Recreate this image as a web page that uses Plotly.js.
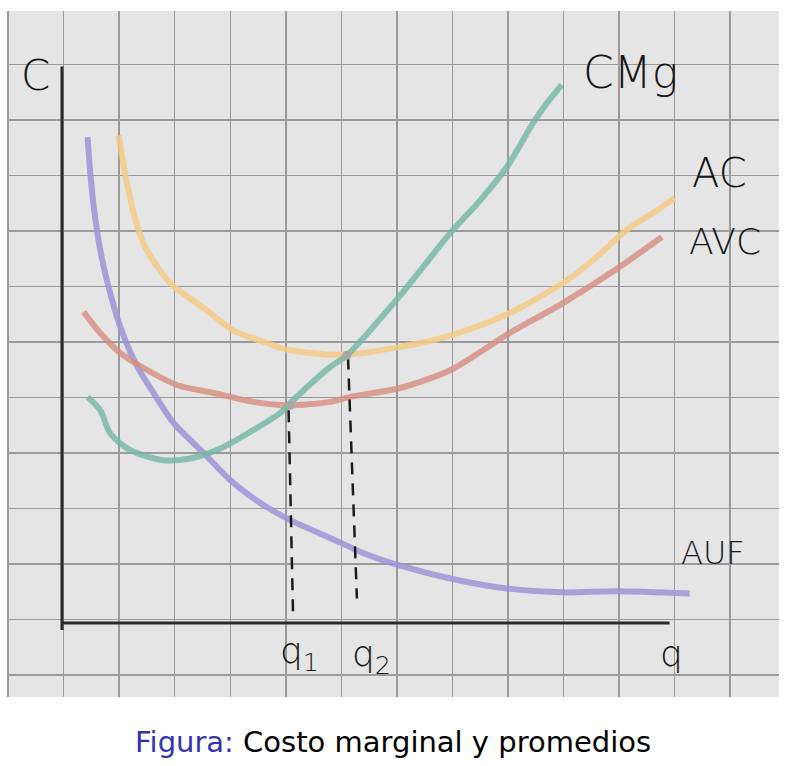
<!DOCTYPE html>
<html>
<head>
<meta charset="utf-8">
<script src="https://cdn.plot.ly/plotly-3.0.1.min.js"></script>
<style>
html,body{margin:0;padding:0;background:#fff;}
#chart{width:792px;height:766px;}
</style>
</head>
<body>
<div id="chart"></div>
<script>
// Curves in grid-cell units (x = quantity, y = cost)
const afcX = [0.43,0.48,0.55,0.66,0.79,1.02,1.33,1.62,1.98,2.52,3.00,3.54,4.08,4.80,5.46,6.06,6.96,7.98,8.99,9.96,11.27];
const afcY = [8.69,8.04,7.37,6.65,6.06,5.27,4.55,4.08,3.54,3.00,2.51,2.10,1.79,1.47,1.17,0.97,0.74,0.56,0.49,0.51,0.47];

const acX = [0.99,1.14,1.33,1.50,1.92,2.58,3.05,3.66,4.03,4.80,5.40,6.06,6.65,7.26,8.03,8.99,9.53,10.14,10.61,11.00];
const acY = [8.72,7.86,7.07,6.65,6.06,5.57,5.21,4.98,4.86,4.77,4.80,4.91,5.03,5.21,5.52,6.06,6.47,7.02,7.32,7.59];

const avcX = [0.36,0.66,1.02,1.51,2.05,2.70,3.42,4.03,4.80,5.16,6.06,6.96,7.55,8.03,8.99,10.01,10.77];
const avcY = [5.54,5.16,4.80,4.49,4.22,4.08,3.92,3.86,3.92,4.01,4.17,4.49,4.85,5.16,5.70,6.35,6.89];

const cmgX = [0.43,0.66,0.84,1.20,1.80,2.28,2.82,3.41,3.90,4.08,4.80,5.10,6.06,6.96,7.50,7.98,8.45,8.70,8.97];
const cmgY = [4.01,3.77,3.35,3.05,2.87,2.90,3.08,3.41,3.72,3.90,4.55,4.76,5.84,6.96,7.55,8.15,8.94,9.30,9.63];

// Intersection points (q1: CMg = AVC min, q2: CMg = AC min)
const dotX = [4.08,5.10];
const dotY = [3.86,4.76];

// Dashed drop lines
const q1LineX = [4.05,4.13];
const q1LineY = [3.77,0.11];
const q2LineX = [5.12,5.28];
const q2LineY = [4.72,0.38];

// Axes
const yAxisX = [-0.03,-0.03];
const yAxisY = [9.96,-0.19];
const xAxisX = [-0.03,10.91];
const xAxisY = [-0.06,-0.06];

// Labels
const labels = [
  {text:'C',   x:-0.5,  y:9.8,  size:42},
  {text:'CMg', x:10.2,  y:9.85, size:44},
  {text:'AC',  x:11.8,  y:8.05, size:40},
  {text:'AVC', x:11.9,  y:6.8,  size:36},
  {text:'AUF', x:11.7,  y:1.2,  size:32},
  {text:'q<sub>1</sub>', x:4.25, y:-0.62, size:36},
  {text:'q<sub>2</sub>', x:5.55, y:-0.67, size:36},
  {text:'q',   x:10.95, y:-0.62, size:36}
];

const lw = 6;
const traces = [
  {x:afcX, y:afcY, mode:'lines', line:{color:'rgba(160,148,215,0.85)', width:lw, shape:'spline', smoothing:0.8}},
  {x:acX,  y:acY,  mode:'lines', line:{color:'rgba(244,204,135,0.85)', width:lw, shape:'spline', smoothing:0.8}},
  {x:avcX, y:avcY, mode:'lines', line:{color:'rgba(214,140,128,0.8)', width:lw, shape:'spline', smoothing:0.8}},
  {x:cmgX, y:cmgY, mode:'lines', line:{color:'rgba(115,182,165,0.8)', width:lw, shape:'spline', smoothing:0.8}},
  {x:q1LineX, y:q1LineY, mode:'lines', line:{color:'#1a1a1a', width:2.5, dash:'12px,9px'}},
  {x:q2LineX, y:q2LineY, mode:'lines', line:{color:'#1a1a1a', width:2.5, dash:'12px,9px'}},
  {x:dotX, y:dotY, mode:'markers', marker:{color:'#a8a8a8', size:9}},
  {x:yAxisX, y:yAxisY, mode:'lines', line:{color:'#2a2a2a', width:3}},
  {x:xAxisX, y:xAxisY, mode:'lines', line:{color:'#2a2a2a', width:3}}
];

const annotations = labels.map(l => ({
  x:l.x, y:l.y, xref:'x', yref:'y', text:l.text, showarrow:false,
  font:{family:'DejaVu Sans', size:l.size, color:'#151515', weight:200}
}));
annotations.push({
  xref:'paper', yref:'paper', x:0.5, y:-0.066, yanchor:'middle', showarrow:false,
  text:'<span style="color:#3333b3">Figura:</span> Costo marginal y promedios',
  font:{family:'DejaVu Sans', size:29, color:'#000'}
});

const gridStyle = {
  showgrid:true, gridcolor:'#9a9a9a', gridwidth:1.5, dtick:1, tick0:0,
  zeroline:false, showticklabels:false, ticks:'', showline:false, fixedrange:true
};

const layout = {
  width:792, height:766,
  margin:{l:7, r:13, t:11, b:69},
  paper_bgcolor:'#ffffff', plot_bgcolor:'#e5e5e5',
  showlegend:false,
  xaxis:Object.assign({range:[-1.02,12.88]}, gridStyle),
  yaxis:Object.assign({range:[-1.395,10.96]}, gridStyle),
  annotations:annotations
};

Plotly.newPlot('chart', traces, layout, {displayModeBar:false, staticPlot:true});
</script>
</body>
</html>
